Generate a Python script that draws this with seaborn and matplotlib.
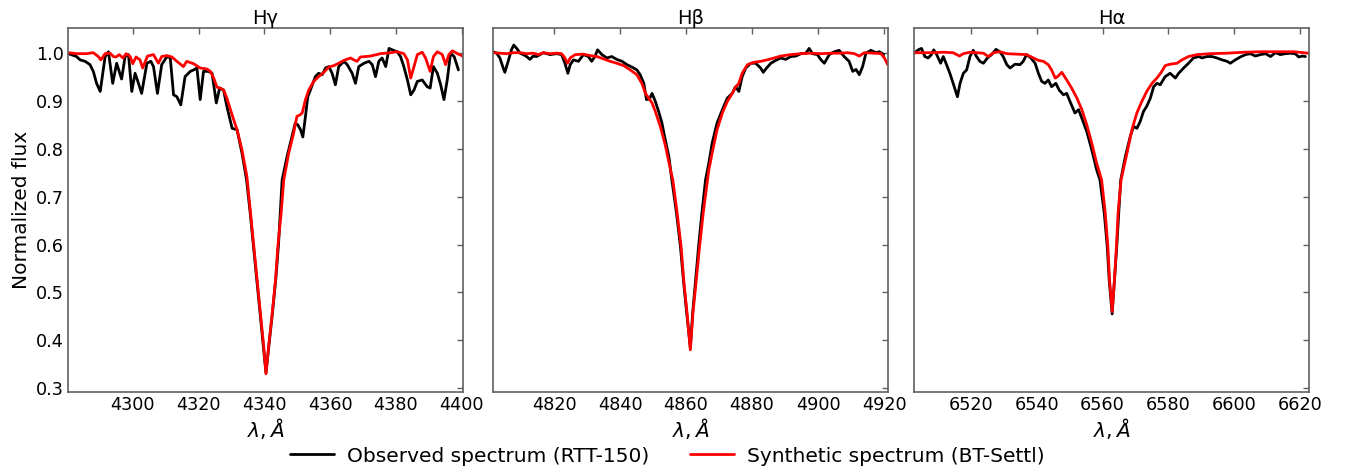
import matplotlib
matplotlib.use("Agg")
import matplotlib.pyplot as plt
import seaborn as sns
import numpy as np

# ---------------- Data ----------------
titles = ["Hγ", "Hβ", "Hα"]
xlims = [(4280.4, 4400.3), (4801.6, 4921.1), (6502.8, 6622.6)]
xticks_list = [[4300, 4320, 4340, 4360, 4380, 4400],
               [4820, 4840, 4860, 4880, 4900, 4920],
               [6520, 6540, 6560, 6580, 6600, 6620]]
yticks = [0.3, 0.4, 0.5, 0.6, 0.7, 0.8, 0.9, 1.0]

# H-gamma observed
hg_obs_wl = [4280.4, 4282.9, 4284.0, 4285.5, 4287.0, 4288.0, 4289.0, 4290.1, 4291.6, 4292.6,
             4293.9, 4295.1, 4296.6, 4297.7, 4298.7, 4299.7, 4300.7, 4301.4, 4302.7, 4304.3,
             4305.5, 4306.3, 4307.5, 4308.8, 4310.4, 4311.4, 4312.4, 4313.4, 4314.6, 4315.9,
             4317.5, 4318.5, 4319.5, 4320.5, 4321.5, 4323.0, 4324.1, 4325.4, 4326.4, 4327.6,
             4328.6, 4330.2, 4331.7, 4333.2, 4334.6, 4335.7, 4336.7, 4337.7, 4338.7, 4339.7,
             4340.5, 4341.4, 4342.5, 4343.5, 4344.3, 4345.4, 4346.9, 4348.4, 4349.4, 4350.2,
             4351.0, 4351.7, 4352.5, 4353.2, 4354.0, 4355.5, 4356.5, 4357.6, 4358.6, 4359.6,
             4360.6, 4361.6, 4362.6, 4364.2, 4365.2, 4366.7, 4367.7, 4368.7, 4370.3, 4371.8,
             4372.8, 4373.8, 4374.8, 4375.8, 4376.9, 4377.9, 4378.9, 4380.4, 4381.4, 4382.4,
             4383.5, 4384.5, 4385.5, 4386.5, 4388.0, 4389.5, 4390.4, 4391.4, 4392.6, 4393.6,
             4394.6, 4395.6, 4396.6, 4397.7, 4399.0]
hg_obs_fl = [0.999, 0.993, 0.986, 0.983, 0.976, 0.962, 0.937, 0.920, 0.993, 1.003,
             0.937, 0.979, 0.946, 0.994, 0.997, 0.920, 0.958, 0.944, 0.916, 0.979,
             0.983, 0.972, 0.916, 0.976, 0.993, 0.990, 0.913, 0.909, 0.892, 0.951,
             0.962, 0.965, 0.969, 0.903, 0.962, 0.962, 0.958, 0.896, 0.927, 0.923,
             0.889, 0.843, 0.840, 0.791, 0.735, 0.666, 0.596, 0.526, 0.457, 0.387,
             0.332, 0.390, 0.460, 0.530, 0.600, 0.735, 0.784, 0.826, 0.854, 0.850,
             0.840, 0.825, 0.868, 0.909, 0.923, 0.951, 0.958, 0.955, 0.969, 0.972,
             0.958, 0.934, 0.972, 0.983, 0.976, 0.958, 0.937, 0.972, 0.979, 0.983,
             0.976, 0.951, 0.983, 0.990, 0.972, 1.010, 1.007, 1.003, 0.993, 0.972,
             0.944, 0.913, 0.923, 0.941, 0.944, 0.930, 0.927, 0.972, 0.958, 0.934,
             0.903, 0.944, 1.000, 0.993, 0.965]

# H-gamma synthetic
hg_syn_wl = [4280.4, 4282.9, 4286.0, 4288.0, 4289.5, 4290.3, 4291.6, 4293.1, 4294.1, 4294.9,
             4295.9, 4297.0, 4298.0, 4299.2, 4300.0, 4301.0, 4302.2, 4303.0, 4304.5, 4306.3,
             4307.8, 4308.8, 4310.4, 4311.9, 4313.4, 4315.4, 4316.4, 4318.5, 4320.5, 4322.5,
             4323.6, 4324.6, 4325.6, 4326.6, 4327.6, 4328.6, 4330.2, 4331.7, 4333.2, 4334.7,
             4335.8, 4336.8, 4337.8, 4338.8, 4339.8, 4340.5, 4341.3, 4342.4, 4343.4, 4344.1,
             4345.1, 4345.9, 4347.4, 4348.9, 4349.9, 4350.8, 4351.5, 4352.5, 4353.5, 4355.0,
             4356.5, 4358.1, 4359.6, 4361.1, 4362.6, 4364.2, 4366.2, 4367.2, 4368.2, 4369.2,
             4372.3, 4375.3, 4378.4, 4380.4, 4382.4, 4383.5, 4384.5, 4385.5, 4386.5, 4388.0,
             4389.0, 4390.4, 4391.4, 4392.6, 4394.1, 4395.1, 4396.1, 4397.2, 4398.7, 4400.3]
hg_syn_fl = [1.001, 0.999, 0.999, 1.001, 0.993, 0.986, 0.999, 1.000, 0.993, 0.992,
             0.997, 0.990, 0.999, 0.993, 0.978, 0.992, 0.986, 0.969, 0.994, 0.997,
             0.979, 0.993, 0.995, 0.992, 0.983, 0.972, 0.983, 0.978, 0.969, 0.967,
             0.962, 0.948, 0.929, 0.927, 0.923, 0.906, 0.871, 0.840, 0.798, 0.742,
             0.666, 0.596, 0.526, 0.457, 0.387, 0.330, 0.387, 0.457, 0.526, 0.596,
             0.666, 0.735, 0.791, 0.833, 0.868, 0.871, 0.875, 0.903, 0.923, 0.941,
             0.951, 0.960, 0.971, 0.974, 0.979, 0.985, 0.990, 0.986, 0.983, 0.992,
             0.994, 0.999, 1.001, 1.003, 0.999, 0.986, 0.948, 0.972, 0.997, 1.002,
             0.990, 0.962, 0.993, 1.003, 0.997, 0.976, 0.997, 1.005, 0.999, 0.994]

# H-beta observed
hb_obs_wl = [4801.6, 4802.6, 4803.6, 4804.6, 4805.1, 4806.1, 4807.1, 4807.8, 4808.7, 4809.7,
             4810.7, 4811.7, 4812.7, 4813.7, 4814.7, 4816.8, 4818.8, 4820.8, 4822.3, 4823.3,
             4824.2, 4824.9, 4825.9, 4827.4, 4828.9, 4830.4, 4831.4, 4832.4, 4833.2, 4834.5,
             4836.0, 4837.5, 4839.0, 4840.6, 4842.1, 4843.6, 4845.1, 4846.1, 4847.2, 4848.0,
             4848.9, 4849.7, 4850.7, 4851.7, 4852.7, 4853.7, 4854.8, 4855.7, 4857.1, 4858.3,
             4859.2, 4860.2, 4861.3, 4862.0, 4862.9, 4863.8, 4864.8, 4865.9, 4866.9, 4867.9,
             4869.4, 4871.0, 4872.5, 4874.0, 4875.0, 4876.0, 4877.0, 4878.1, 4879.6, 4881.1,
             4882.6, 4883.4, 4884.4, 4885.7, 4887.2, 4888.7, 4890.2, 4891.7, 4893.3, 4894.8,
             4896.3, 4897.3, 4898.3, 4899.8, 4900.9, 4901.9, 4903.4, 4904.9, 4906.4, 4907.9,
             4909.4, 4910.5, 4911.5, 4912.5, 4913.5, 4914.5, 4916.0, 4917.6, 4918.6, 4919.9]
hb_obs_fl = [1.003, 1.000, 0.990, 0.969, 0.960, 0.983, 1.007, 1.017, 1.010, 1.000,
             0.997, 0.993, 0.987, 0.994, 0.993, 1.001, 0.997, 0.999, 0.997, 0.979,
             0.958, 0.976, 0.986, 0.983, 0.997, 0.993, 0.983, 0.993, 1.007, 0.997,
             0.990, 0.993, 0.987, 0.983, 0.976, 0.971, 0.965, 0.955, 0.937, 0.903,
             0.904, 0.916, 0.899, 0.878, 0.854, 0.819, 0.784, 0.735, 0.666, 0.596,
             0.526, 0.457, 0.385, 0.457, 0.526, 0.596, 0.666, 0.735, 0.770, 0.812,
             0.854, 0.882, 0.906, 0.916, 0.930, 0.920, 0.951, 0.969, 0.979, 0.979,
             0.969, 0.960, 0.969, 0.979, 0.985, 0.990, 0.987, 0.993, 0.994, 0.999,
             1.000, 1.010, 0.999, 0.997, 0.986, 0.979, 0.997, 1.003, 1.006, 0.993,
             0.983, 0.962, 0.966, 0.955, 0.972, 1.000, 1.006, 1.001, 1.003, 0.997]

# H-beta synthetic
hb_syn_wl = [4801.6, 4803.6, 4805.6, 4807.6, 4809.7, 4811.7, 4813.7, 4815.2, 4816.8, 4818.8,
             4820.8, 4822.3, 4823.3, 4824.1, 4824.9, 4826.4, 4828.9, 4830.9, 4833.0, 4835.0,
             4837.0, 4839.0, 4841.1, 4843.1, 4845.1, 4846.6, 4847.7, 4848.7, 4849.7, 4850.7,
             4852.2, 4853.7, 4855.3, 4856.0, 4857.3, 4858.5, 4859.3, 4860.3, 4861.3, 4862.1,
             4863.1, 4864.1, 4865.2, 4866.5, 4866.9, 4867.9, 4869.4, 4871.0, 4872.5, 4874.0,
             4875.0, 4876.0, 4877.0, 4878.6, 4880.6, 4882.6, 4884.6, 4886.7, 4888.7, 4891.7,
             4894.8, 4897.8, 4900.9, 4903.9, 4906.9, 4908.9, 4911.0, 4912.5, 4914.0, 4917.1,
             4919.1, 4920.1, 4921.1]
hb_syn_fl = [1.001, 1.000, 0.999, 1.001, 1.001, 0.999, 1.000, 0.997, 1.001, 0.999,
             1.000, 0.999, 0.990, 0.979, 0.990, 0.997, 0.998, 0.995, 0.993, 0.988,
             0.983, 0.979, 0.974, 0.965, 0.955, 0.937, 0.916, 0.906, 0.896, 0.878,
             0.847, 0.808, 0.756, 0.735, 0.666, 0.596, 0.526, 0.457, 0.380, 0.457,
             0.526, 0.596, 0.666, 0.735, 0.756, 0.791, 0.840, 0.875, 0.899, 0.916,
             0.929, 0.937, 0.958, 0.976, 0.981, 0.983, 0.986, 0.990, 0.994, 0.997,
             0.999, 1.000, 0.999, 1.000, 1.000, 1.001, 0.999, 0.994, 1.001, 1.000,
             0.999, 0.990, 0.976]

# H-alpha observed
ha_obs_wl = [6502.8, 6504.0, 6505.0, 6506.0, 6507.0, 6508.0, 6508.7, 6509.6, 6510.8, 6511.6,
             6512.6, 6513.6, 6514.6, 6515.9, 6516.7, 6517.7, 6518.7, 6519.7, 6520.7, 6521.7,
             6522.7, 6523.8, 6525.0, 6526.3, 6527.6, 6528.8, 6529.8, 6530.9, 6531.9, 6533.4,
             6534.9, 6535.9, 6536.9, 6538.2, 6539.5, 6540.5, 6541.5, 6542.5, 6543.5, 6544.5,
             6545.8, 6546.8, 6548.1, 6549.1, 6550.1, 6551.6, 6552.7, 6553.7, 6555.2, 6556.7,
             6558.2, 6559.2, 6560.5, 6561.4, 6562.0, 6562.9, 6563.6, 6564.3, 6564.9, 6565.5,
             6566.9, 6568.4, 6569.4, 6570.4, 6571.4, 6572.4, 6573.4, 6574.5, 6575.5, 6576.5,
             6577.5, 6579.0, 6580.5, 6582.1, 6583.1, 6584.6, 6586.1, 6587.6, 6589.2, 6590.2,
             6591.7, 6593.2, 6594.7, 6596.3, 6597.8, 6598.8, 6600.3, 6601.8, 6603.4, 6604.9,
             6606.4, 6607.9, 6609.5, 6611.0, 6612.5, 6614.0, 6615.5, 6617.0, 6618.5, 6619.6,
             6620.6, 6621.6]
ha_obs_fl = [1.000, 1.007, 1.010, 0.993, 0.990, 0.997, 1.007, 0.997, 0.979, 0.993,
             0.976, 0.958, 0.937, 0.909, 0.937, 0.958, 0.965, 0.993, 1.006, 0.993,
             0.983, 0.979, 0.990, 0.997, 1.008, 1.003, 0.993, 0.976, 0.969, 0.977,
             0.976, 0.983, 0.997, 0.990, 0.979, 0.958, 0.941, 0.937, 0.944, 0.930,
             0.937, 0.923, 0.913, 0.916, 0.899, 0.875, 0.882, 0.864, 0.836, 0.798,
             0.756, 0.735, 0.666, 0.596, 0.526, 0.455, 0.526, 0.596, 0.666, 0.735,
             0.784, 0.826, 0.847, 0.843, 0.857, 0.878, 0.889, 0.906, 0.930, 0.937,
             0.934, 0.951, 0.958, 0.948, 0.958, 0.969, 0.979, 0.990, 0.993, 0.990,
             0.993, 0.993, 0.990, 0.986, 0.983, 0.979, 0.986, 0.992, 0.997, 0.999,
             0.994, 0.997, 0.999, 0.993, 1.001, 0.997, 0.999, 1.000, 0.999, 0.992,
             0.994, 0.993]

# H-alpha synthetic
ha_syn_wl = [6502.8, 6505.5, 6508.5, 6511.6, 6514.6, 6516.5, 6517.7, 6519.7, 6521.7, 6523.8,
             6525.3, 6526.8, 6528.8, 6530.9, 6533.9, 6536.9, 6539.0, 6540.5, 6542.0, 6543.5,
             6544.5, 6545.6, 6546.3, 6547.6, 6549.1, 6550.6, 6552.2, 6553.7, 6555.2, 6556.7,
             6558.2, 6559.7, 6560.8, 6561.6, 6562.1, 6562.9, 6563.6, 6564.2, 6564.7, 6565.6,
             6567.4, 6568.9, 6570.4, 6571.9, 6573.4, 6575.0, 6576.5, 6578.0, 6579.0, 6580.5,
             6582.6, 6584.1, 6586.1, 6588.7, 6592.7, 6597.8, 6602.9, 6607.9, 6613.0, 6618.1,
             6622.6]
ha_syn_fl = [1.001, 1.001, 1.001, 1.002, 1.001, 0.994, 0.999, 1.002, 1.001, 1.000,
             0.993, 1.001, 1.003, 0.999, 0.998, 0.997, 0.990, 0.985, 0.983, 0.976,
             0.965, 0.948, 0.951, 0.960, 0.944, 0.927, 0.906, 0.882, 0.850, 0.812,
             0.770, 0.735, 0.666, 0.596, 0.526, 0.460, 0.526, 0.596, 0.666, 0.735,
             0.791, 0.840, 0.875, 0.899, 0.920, 0.937, 0.948, 0.962, 0.974, 0.977,
             0.979, 0.986, 0.993, 0.997, 0.999, 1.000, 1.002, 1.003, 1.003, 1.003,
             1.000]

obs_label = "Observed spectrum (RTT-150)"
syn_label = "Synthetic spectrum (BT-Settl)"

panels = [(hg_obs_wl, hg_obs_fl, hg_syn_wl, hg_syn_fl),
          (hb_obs_wl, hb_obs_fl, hb_syn_wl, hb_syn_fl),
          (ha_obs_wl, ha_obs_fl, ha_syn_wl, ha_syn_fl)]

# ---------------- Plot ----------------
sns.set_style("white", rc={"text.color": "black", "axes.labelcolor": "black",
                           "xtick.color": "black", "ytick.color": "black"})
plt.rcParams['font.family'] = ['DejaVu Sans']
plt.rcParams['mathtext.fontset'] = 'dejavusans'

fig = plt.figure(figsize=(13.45, 4.71), dpi=100)
lefts = [68.3 / 1345, 493.3 / 1345, 914.3 / 1345]
width = 394.4 / 1345
bottom = 1 - 391.5 / 471
height = (391.5 - 28.3) / 471

spine_col = '#606060'
axes = []
for i, (ow, of, sw, sf) in enumerate(panels):
    ax = fig.add_axes([lefts[i], bottom, width, height])
    axes.append(ax)
    sns.lineplot(x=ow, y=of, ax=ax, color='black', lw=2, estimator=None,
                 label=obs_label if i == 0 else None, legend=False)
    sns.lineplot(x=sw, y=sf, ax=ax, color='red', lw=2, estimator=None,
                 label=syn_label if i == 0 else None, legend=False)
    ax.set_xlim(*xlims[i])
    ax.set_ylim(0.293, 1.052)
    ax.set_xticks(xticks_list[i])
    ax.set_yticks(yticks)
    ax.set_title(titles[i], fontsize=14, pad=3, color='black')
    ax.set_xlabel(r'$\lambda, \AA$', fontsize=14.5, labelpad=2)
    ax.tick_params(direction='in', top=True, right=True, length=4, width=1,
                   color=spine_col, labelcolor='black', labelsize=12.7, pad=3)
    for sp in ax.spines.values():
        sp.set_color(spine_col)
        sp.set_linewidth(1.2)
    if i == 0:
        ax.set_ylabel("Normalized flux", fontsize=14.5, labelpad=4)
        ax.set_yticklabels([f"{v:.1f}" for v in yticks])
    else:
        ax.set_ylabel("")
        ax.tick_params(labelleft=False)

handles, labels = axes[0].get_legend_handles_labels()
fig.legend(handles, labels, loc='center', bbox_to_anchor=(0.4963, 1 - 456 / 471),
           ncol=2, frameon=False, fontsize=14.5, handlelength=2.2,
           handletextpad=0.65, columnspacing=2.0)

fig.savefig("out.png", dpi=100)
